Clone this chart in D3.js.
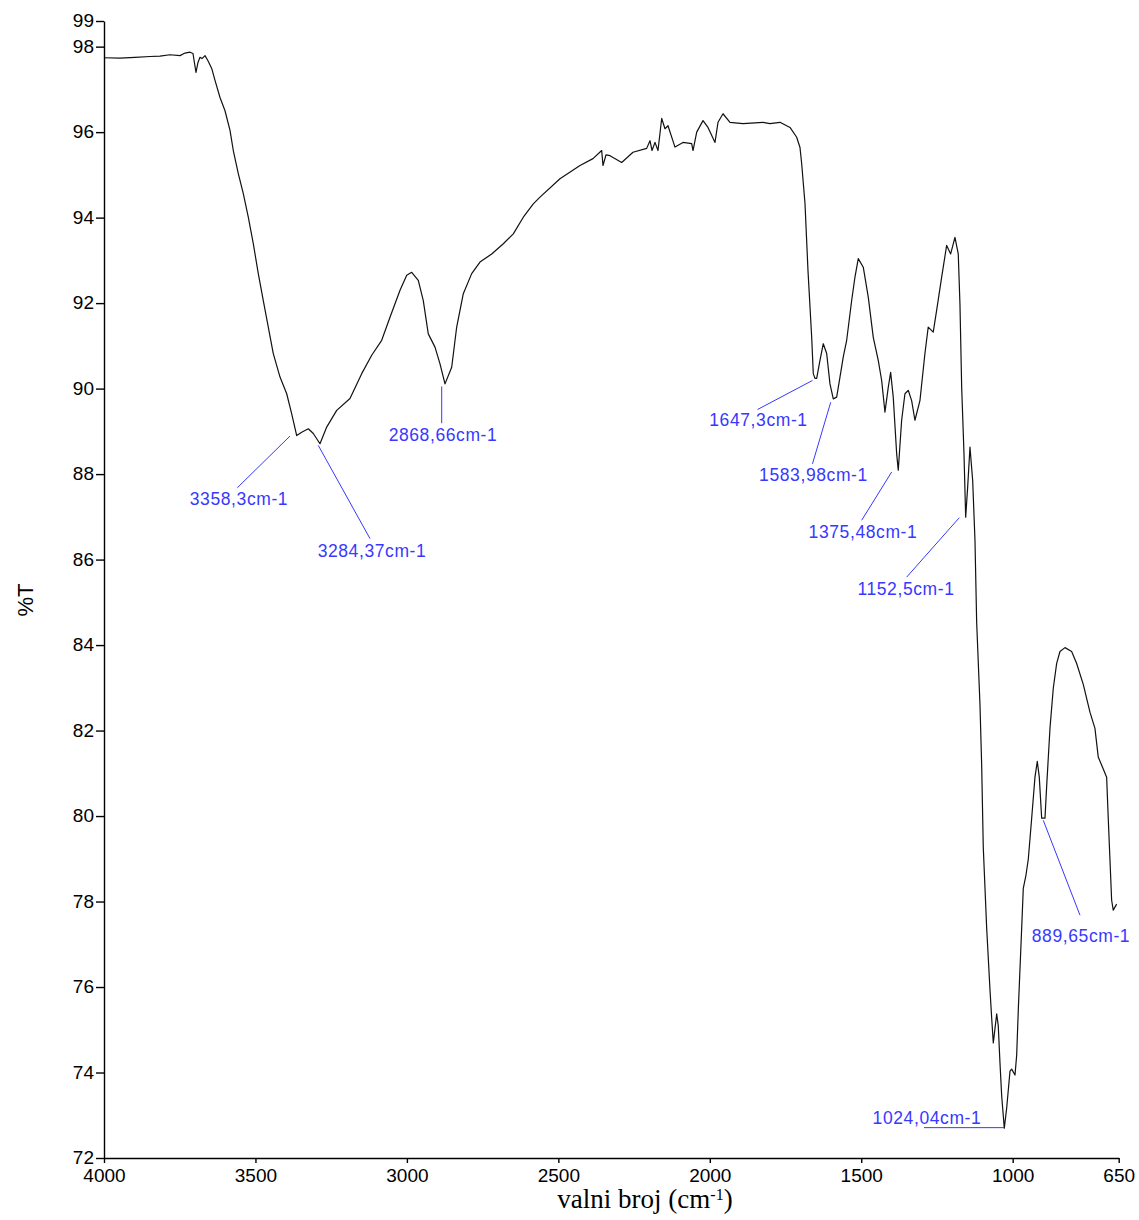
<!DOCTYPE html>
<html>
<head>
<meta charset="utf-8">
<script src="https://cdn.jsdelivr.net/npm/d3@7"></script>
<style>
body { margin: 0; background: #fff; }
svg { display: block; font-family: "Liberation Sans", Arial, sans-serif; }
.tick text { fill: #000; font-size: 19px; }
.peak text { fill: #3838ff; font-size: 17.5px; letter-spacing: 0.6px; }
</style>
</head>
<body>
<script>
/* Spectrum: wavenumber (cm-1) and %T */
var wavenumbers = [4000, 3947.2, 3897.7, 3848.1, 3815.1, 3782.1, 3749.1, 3732.6, 3716.1, 3706.2,
	3696.3, 3689.7, 3683.1, 3676.5, 3666.6, 3656.7, 3644.4, 3633.5, 3617.0, 3600.5,
	3584.0, 3573.1, 3556.6, 3540.1, 3523.6, 3507.1, 3490.6, 3474.1, 3457.6, 3441.1,
	3418.9, 3396.8, 3380.3, 3363.8, 3347.3, 3325.5, 3309.0, 3286.9, 3264.8, 3231.8,
	3187.9, 3149.2, 3116.2, 3083.2, 3055.8, 3022.7, 3000.6, 2984.1, 2962.4, 2945.9,
	2929.4, 2907.2, 2890.7, 2874.2, 2852.1, 2835.6, 2813.8, 2786.1, 2758.7, 2720.0,
	2681.7, 2648.7, 2615.7, 2582.7, 2560.6, 2494.6, 2428.5, 2385.6, 2356.9, 2352.6,
	2342.7, 2329.5, 2290.9, 2253.6, 2208.4, 2197.4, 2190.8, 2180.9, 2171.0, 2158.8,
	2147.9, 2138.0, 2114.9, 2088.5, 2059.7, 2055.4, 2043.2, 2022.4, 2005.9, 1982.8,
	1972.9, 1956.4, 1933.3, 1890.4, 1824.4, 1801.3, 1768.3, 1735.2, 1713.1, 1702.2,
	1696.6, 1685.7, 1675.8, 1663.6, 1658.3, 1652.7, 1647.1, 1636.2, 1625.3, 1614.1,
	1603.2, 1592.3, 1581.1, 1570.2, 1559.3, 1548.1, 1531.6, 1520.7, 1509.8, 1493.3,
	1476.8, 1460.3, 1443.8, 1432.6, 1421.7, 1410.8, 1402.9, 1394.3, 1383.1, 1377.8,
	1366.6, 1355.7, 1344.8, 1333.6, 1322.7, 1306.2, 1289.7, 1278.8, 1262.3, 1251.1,
	1234.5, 1218.0, 1204.8, 1190.6, 1179.7, 1174.1, 1168.4, 1160.8, 1155.2, 1148.6,
	1141.0, 1132.1, 1124.5, 1118.9, 1108.0, 1102.4, 1097.1, 1085.9, 1074.9, 1069.3,
	1064.0, 1052.8, 1047.6, 1041.9, 1036.3, 1027.7, 1019.8, 1008.9, 1003.3, 992.4,
	986.8, 981.5, 970.3, 965.0, 956.1, 948.5, 937.3, 926.4, 918.8, 912.2,
	904.3, 893.4, 887.8, 876.9, 866.0, 854.8, 843.9, 827.4, 805.3, 788.8,
	767.0, 744.9, 728.4, 717.5, 701.0, 689.8, 684.5, 678.9, 673.3, 668.0,
	656.8];

var transmittance = [97.74, 97.73, 97.75, 97.77, 97.78, 97.81, 97.79, 97.85, 97.87, 97.84,
	97.40, 97.63, 97.75, 97.72, 97.79, 97.67, 97.49, 97.21, 96.81, 96.50,
	96.04, 95.57, 95.03, 94.56, 94.01, 93.39, 92.69, 92.06, 91.44, 90.82,
	90.27, 89.88, 89.41, 88.90, 88.98, 89.06, 88.95, 88.71, 89.10, 89.49,
	89.77, 90.35, 90.78, 91.13, 91.67, 92.30, 92.65, 92.72, 92.53, 92.06,
	91.28, 90.97, 90.58, 90.11, 90.50, 91.44, 92.22, 92.69, 92.96, 93.15,
	93.39, 93.62, 94.01, 94.32, 94.48, 94.91, 95.22, 95.38, 95.57, 95.22,
	95.47, 95.45, 95.29, 95.53, 95.62, 95.80, 95.57, 95.76, 95.57, 96.32,
	96.08, 96.15, 95.65, 95.76, 95.73, 95.57, 96.00, 96.27, 96.11, 95.76,
	96.23, 96.43, 96.23, 96.20, 96.23, 96.20, 96.23, 96.11, 95.88, 95.64,
	95.26, 94.33, 92.76, 91.20, 90.35, 90.24, 90.24, 90.66, 91.05, 90.82,
	90.11, 89.76, 89.80, 90.27, 90.74, 91.13, 92.06, 92.61, 93.04, 92.84,
	92.14, 91.20, 90.66, 90.19, 89.45, 90.03, 90.38, 89.80, 88.48, 88.09,
	89.26, 89.88, 89.96, 89.72, 89.26, 89.72, 90.82, 91.44, 91.32, 91.83,
	92.61, 93.35, 93.15, 93.54, 93.15, 91.98, 90.03, 88.48, 86.99, 87.70,
	88.63, 87.85, 86.45, 84.53, 82.61, 81.19, 79.27, 77.38, 75.93, 75.27,
	74.69, 75.37, 75.09, 74.22, 73.45, 72.70, 73.17, 74.03, 74.08, 73.94,
	74.41, 75.46, 77.38, 78.31, 78.62, 78.99, 79.95, 80.91, 81.28, 80.91,
	79.95, 79.95, 80.70, 82.05, 82.99, 83.57, 83.85, 83.94, 83.85, 83.57,
	83.08, 82.43, 82.05, 81.38, 81.10, 80.91, 79.95, 78.99, 78.03, 77.80,
	77.94];

/* Axis ticks */
var xTicks = [4000, 3500, 3000, 2500, 2000, 1500, 1000, 650];
var yTicks = [72, 74, 76, 78, 80, 82, 84, 86, 88, 90, 92, 94, 96, 98];
var yTop = 98.6; // top of the axis, printed as "99"

/* Peak labels: [text, line from (wn,%T), line to (wn,%T), text at (wn,%T)] */
var peakLabels = ["3358,3cm-1", "3284,37cm-1", "2868,66cm-1", "1647,3cm-1", "1583,98cm-1",
	"1375,48cm-1", "1152,5cm-1", "1024,04cm-1", "889,65cm-1"];
var peakFrom = [[3385.9, 88.89], [3292.5, 88.67], [2885.1, 90.05], [1661.0, 90.19], [1600.8, 89.68],
	[1399.5, 88.05], [1176.3, 86.98], [1028.7, 72.71], [899.0, 79.90]];
var peakTo = [[3559.9, 87.68], [3121.8, 86.49], [2885.1, 89.19], [1842.6, 89.51], [1661.0, 88.24],
	[1498.5, 86.92], [1350.0, 85.59], [1292.8, 72.71], [777.8, 77.68]];
var peakText = [[3554.3, 87.27], [3115.2, 86.06], [2880.8, 88.77], [1839.3, 89.12], [1657.7, 87.83],
	[1494.2, 86.51], [1352.3, 85.18], [1282.9, 72.80], [774.5, 77.06]];

/* Display setup */
var width = 1139, height = 1220,
	plot = {left: 104, right: 1118.7, top: 21, bottom: 1158},
	svg = d3.select("body").append("svg")
		.attr("width", width)
		.attr("height", height),
	x = d3.scaleLinear().domain([4000, 650]).range([plot.left, plot.right]),
	y = d3.scaleLinear().domain([72, yTop]).range([plot.bottom, plot.top]);

var spectrum = wavenumbers.map(function(w, i) { return {wn: w, t: transmittance[i]}; });

svg.append("path")
	.datum(spectrum)
	.attr("fill", "none")
	.attr("stroke", "#111")
	.attr("stroke-width", 1.2)
	.attr("stroke-linejoin", "round")
	.attr("d", d3.line()
		.x(function(d) { return x(d.wn); })
		.y(function(d) { return y(d.t); }));

/* Axes */
svg.append("g")
	.attr("transform", "translate(" + plot.left + ",0)")
	.call(d3.axisLeft(y)
		.tickValues(yTicks.concat([yTop]))
		.tickFormat(d3.format(".0f"))
		.tickSize(8)
		.tickSizeOuter(0)
		.tickPadding(2))
	.call(function(g) { g.selectAll("line, path").attr("stroke", "#000").attr("stroke-width", 1.4); })
	.selectAll("text").attr("dy", "0.3em");

svg.append("g")
	.attr("transform", "translate(0," + plot.bottom + ")")
	.call(d3.axisBottom(x)
		.tickValues(xTicks)
		.tickFormat(d3.format("d"))
		.tickSize(5)
		.tickSizeOuter(0)
		.tickPadding(6))
	.call(function(g) { g.selectAll("line, path").attr("stroke", "#000").attr("stroke-width", 1.4); });

svg.selectAll(".tick text").attr("font-family", null);

/* Axis titles */
svg.append("text")
	.attr("transform", "translate(33,600) rotate(-90)")
	.attr("text-anchor", "middle")
	.style("font-size", "22px")
	.text("%T");

var xTitle = svg.append("text")
	.attr("x", 645)
	.attr("y", 1208)
	.attr("text-anchor", "middle")
	.style("font-family", "'Liberation Serif', 'Times New Roman', serif")
	.style("font-size", "27px");
xTitle.append("tspan").text("valni  broj (cm");
xTitle.append("tspan").attr("dy", -8).style("font-size", "16px").text("-1");
xTitle.append("tspan").attr("dy", 8).text(")");

/* Peak annotations */
var peak = svg.append("g")
	.attr("class", "peak")
	.selectAll("g")
	.data(peakLabels)
	.enter().append("g");

peak.append("line")
	.attr("x1", function(d, i) { return x(peakFrom[i][0]); })
	.attr("y1", function(d, i) { return y(peakFrom[i][1]); })
	.attr("x2", function(d, i) { return x(peakTo[i][0]); })
	.attr("y2", function(d, i) { return y(peakTo[i][1]); })
	.attr("stroke", "#3838ff")
	.attr("stroke-width", 1);

peak.append("text")
	.attr("x", function(d, i) { return x(peakText[i][0]); })
	.attr("y", function(d, i) { return y(peakText[i][1]); })
	.attr("text-anchor", "middle")
	.text(function(d) { return d; });
</script>
</body>
</html>
